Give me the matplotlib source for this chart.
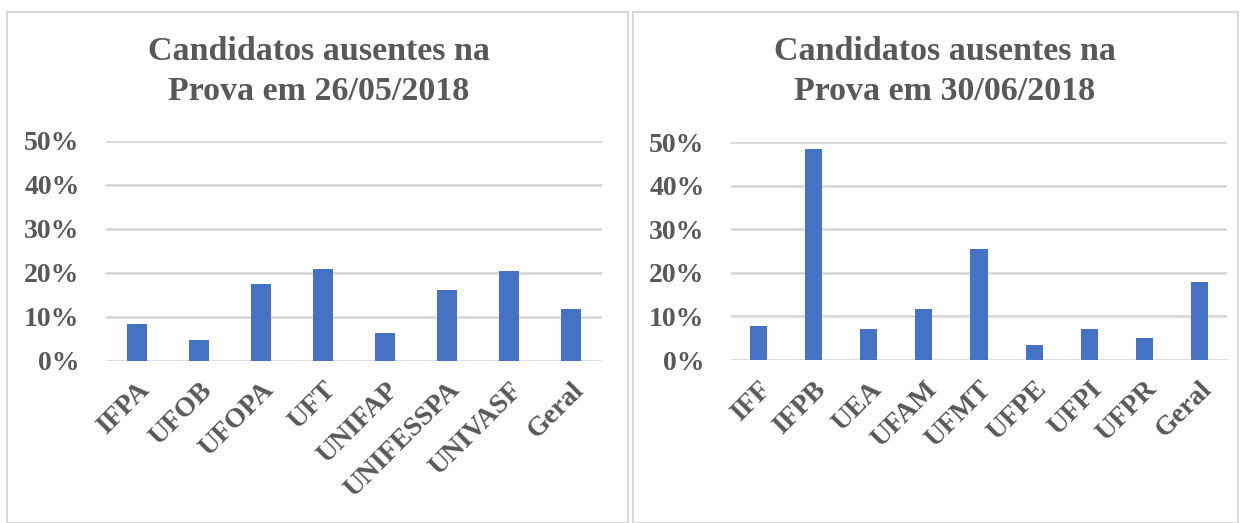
import matplotlib
matplotlib.use('Agg')
import matplotlib.pyplot as plt
import matplotlib.transforms as mtransforms
from matplotlib.patches import Rectangle
from matplotlib.ticker import PercentFormatter

# Data
cats_maio = ['IFPA', 'UFOB', 'UFOPA', 'UFT', 'UNIFAP', 'UNIFESSPA', 'UNIVASF', 'Geral']
vals_maio = [8.3, 4.7, 17.5, 20.8, 6.4, 16.1, 20.5, 11.8]

cats_junho = ['IFF', 'IFPB', 'UEA', 'UFAM', 'UFMT', 'UFPE', 'UFPI', 'UFPR', 'Geral']
vals_junho = [7.8, 48.3, 7.0, 11.7, 25.5, 3.4, 7.0, 5.0, 18.0]

titles = ['Candidatos ausentes na\nProva em 26/05/2018',
          'Candidatos ausentes na\nProva em 30/06/2018']

plt.rcParams['font.family'] = ['Liberation Serif', 'DejaVu Serif']
plt.rcParams['font.weight'] = 'bold'

TEXT = '#595959'
GRID = '#D9D9D9'
BAR = '#4472C4'

W, H = 1242, 523
fig = plt.figure(figsize=(W / 100, H / 100), dpi=100)

# panel borders (pixel coords from top-left)
for x0, x1 in [(7, 628), (633, 1238)]:
    fig.patches.append(Rectangle((x0 / W, 0), (x1 - x0) / W, 1 - 12 / H,
                                 transform=fig.transFigure, fill=False,
                                 edgecolor=GRID, linewidth=1.5))

# axes rectangles: left, bottom, width, height (pixels)
boxes = [(106, 361, 496, 220), (731, 360, 496, 218)]
title_x = [319, 945]

for i, (cats, vals) in enumerate([(cats_maio, vals_maio), (cats_junho, vals_junho)]):
    l, b, w, h = boxes[i]
    ax = fig.add_axes([l / W, 1 - b / H, w / W, h / H])
    x = range(len(cats))
    ax.bar(x, vals, width=0.31, color=BAR, zorder=3)
    ax.set_xlim(-0.5, len(cats) - 0.5)
    ax.set_ylim(0, 50)
    ax.set_yticks([0, 10, 20, 30, 40, 50])
    ax.yaxis.set_major_formatter(PercentFormatter(decimals=0))
    ax.grid(axis='y', color=GRID, linewidth=2, zorder=0)
    ax.set_axisbelow(True)
    for s in ax.spines.values():
        s.set_visible(False)
    ax.set_xticks(list(x))
    ax.set_xticklabels(cats, rotation=45, ha='right', rotation_mode='anchor')
    shift = mtransforms.ScaledTranslation(-5 / 100, 0, fig.dpi_scale_trans)
    for lab in ax.get_xticklabels():
        lab.set_transform(lab.get_transform() + shift)
    ax.tick_params(axis='y', length=0, pad=19, labelsize=20, labelcolor=TEXT)
    ax.tick_params(axis='x', length=0, pad=12, labelsize=20, labelcolor=TEXT)
    fig.text(title_x[i] / W, 1 - 71.5 / H, titles[i], ha='center', va='center',
             fontsize=24.5, fontweight='bold', color=TEXT, linespacing=1.4)

fig.savefig('out.png', dpi=100, facecolor='white')
